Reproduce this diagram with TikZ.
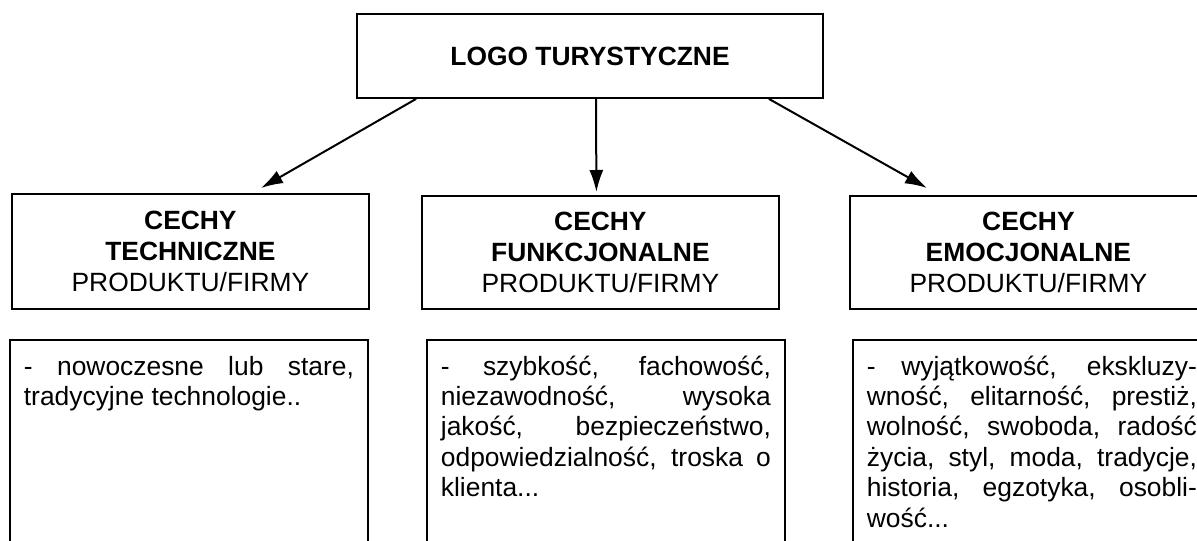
\documentclass[tikz,border=0pt]{standalone}
\usepackage{fontspec}
\setmainfont{Liberation Sans}
\usetikzlibrary{arrows.meta}

\tikzset{
  frame/.style={draw, line width=0.9pt},
  titlebox/.style={frame, minimum width=178.5pt, minimum height=57.5pt, align=center,
    anchor=north west, font=\fontsize{13.2}{15.5}\selectfont},
  listbox/.style={frame, inner sep=7pt, anchor=north west,
    font=\fontsize{13.2}{15.2}\selectfont},
  link/.style={line width=1pt, -{Latex[length=11pt,width=7pt]}}
}
\newcommand{\jline}[1]{\makebox[\linewidth][s]{#1}}

\begin{document}
\begin{tikzpicture}[x=0.5pt,y=-0.5pt]
      \useasboundingbox (0,0) rectangle (1197,540);
      \clip (0,0) rectangle (1197,540);

      % Top box
      \node[frame, minimum width=233pt, minimum height=42pt,
        font=\fontsize{13.2}{15.5}\selectfont\bfseries] (logo) at (590,56) {LOGO TURYSTYCZNE};

      % Boxes for the three kinds of features
      \node[titlebox] (tech) at (11,193) {\textbf{CECHY}\\\textbf{TECHNICZNE}\\PRODUKTU/FIRMY};
      \node[titlebox, minimum height=56.5pt] (func) at (421,195) {\textbf{CECHY}\\\textbf{FUNKCJONALNE}\\PRODUKTU/FIRMY};
      \node[titlebox, minimum height=56.5pt] (emo) at (849,195) {\textbf{CECHY}\\\textbf{EMOCJONALNE}\\PRODUKTU/FIRMY};

      % Lists below (boxes run past the bottom edge)
      \node[listbox] (techlist) at (9,339) {\parbox[t][110pt][t]{165pt}{%
        \strut\jline{- nowoczesne lub stare,}\\
        tradycyjne technologie..}};
      \node[listbox] (funclist) at (426,339) {\parbox[t][110pt][t]{165pt}{%
        \strut\jline{- szybkość, fachowość,}\\
        \jline{niezawodność, wysoka}\\
        \jline{jakość, bezpieczeństwo,}\\
        \jline{odpowiedzialność, troska o}\\
        klienta...}};
      \node[listbox] (emolist) at (852,339) {\parbox[t][110pt][t]{165pt}{%
        \strut\jline{- wyjątkowość, ekskluzy-}\\
        \jline{wność, elitarność, prestiż,}\\
        \jline{wolność, swoboda, radość}\\
        \jline{życia, styl, moda, tradycje,}\\
        \jline{historia, egzotyka, osobli-}\\
        wość...}};

      % Arrows
      \draw[link] ([xshift=30pt]logo.south west) -- ([xshift=125pt,yshift=2.5pt]tech.north west);
      \draw[link] ([xshift=3pt]logo.south) -- ([xshift=-2pt,yshift=1.5pt]func.north);
      \draw[link] ([xshift=-27.5pt]logo.south east) -- ([xshift=39pt,yshift=3.5pt]emo.north west);
\end{tikzpicture}
\end{document}
